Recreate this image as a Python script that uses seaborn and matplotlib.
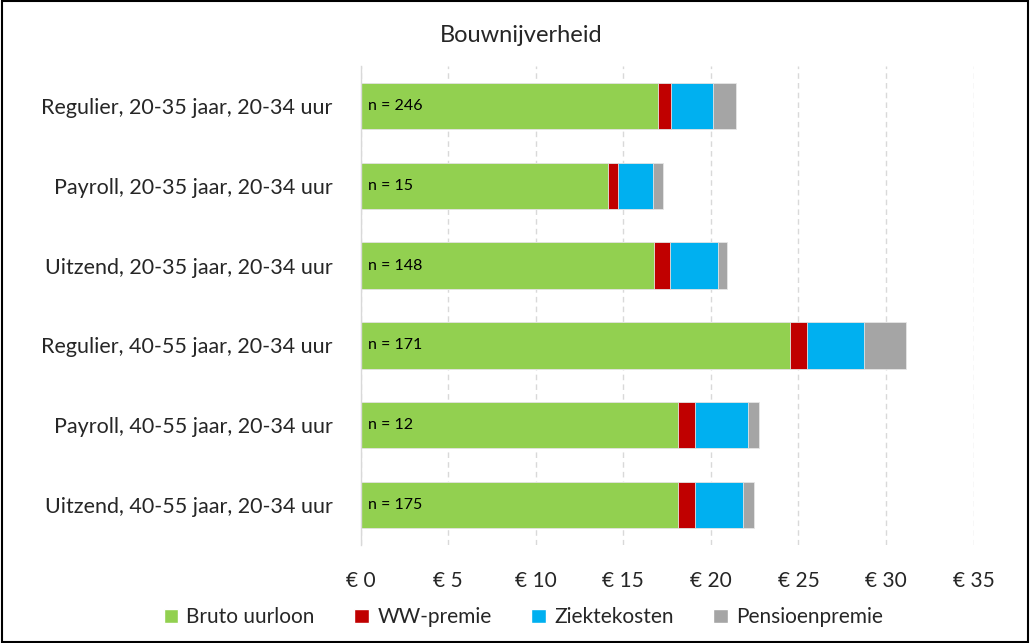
import matplotlib
matplotlib.use("Agg")
import matplotlib.pyplot as plt
import seaborn as sns
import pandas as pd
import numpy as np
from matplotlib.patches import Patch, Rectangle

categories = [
    "Regulier, 20-35 jaar, 20-34 uur",
    "Payroll, 20-35 jaar, 20-34 uur",
    "Uitzend, 20-35 jaar, 20-34 uur",
    "Regulier, 40-55 jaar, 20-34 uur",
    "Payroll, 40-55 jaar, 20-34 uur",
    "Uitzend, 40-55 jaar, 20-34 uur",
]
bruto = [17.0, 14.1, 16.75, 24.5, 18.1, 18.15]
ww = [0.72, 0.6, 0.93, 1.0, 0.97, 0.97]
ziekte = [2.42, 2.0, 2.73, 3.25, 3.03, 2.74]
pensioen = [1.29, 0.54, 0.5, 2.38, 0.64, 0.63]
n_labels = ["n = 246", "n = 15", "n = 148", "n = 171", "n = 12", "n = 175"]
series_names = ["Bruto uurloon", "WW-premie", "Ziektekosten", "Pensioenpremie"]
colors = ["#92D050", "#C00000", "#00B0F0", "#A5A5A5"]
xticks = [0, 5, 10, 15, 20, 25, 30, 35]

sns.set_style("white")
plt.rcParams["font.family"] = ["Lato", "DejaVu Sans"]

df = pd.DataFrame({"cat": categories, "Bruto uurloon": bruto, "WW-premie": ww,
                   "Ziektekosten": ziekte, "Pensioenpremie": pensioen})
cum = df[series_names].cumsum(axis=1)

fig = plt.figure(figsize=(10.3, 6.43), dpi=100)
ax = fig.add_axes([0.35, 0.1524, 0.5953, 0.745])

for name, col in reversed(list(zip(series_names, colors))):
    d = pd.DataFrame({"cat": categories, "val": cum[name]})
    sns.barplot(data=d, y="cat", x="val", orient="h", color=col, width=0.58,
                edgecolor="#E6E6E6", linewidth=0.6, ax=ax, saturation=1)

for i, lab in enumerate(n_labels):
    ax.text(0.4, i, lab, va="center", ha="left", fontsize=11.5, color="#000000")

ax.set_xlim(0, 35)
ax.set_xticks(xticks)
ax.set_xticklabels([f"€ {v}" for v in xticks], fontsize=15)
ax.tick_params(axis="x", pad=19, length=0)
ax.tick_params(axis="y", pad=20, length=0, labelsize=15.5)
ax.set_xlabel("")
ax.set_ylabel("")
ax.xaxis.grid(True, linestyle=(0, (4, 3)), color="#D9D9D9", linewidth=1)
ax.yaxis.grid(False)
ax.set_axisbelow(True)
for s in ax.spines.values():
    s.set_visible(False)
ax.spines["left"].set_visible(True)
ax.spines["left"].set_color("#D9D9D9")
ax.spines["left"].set_linewidth(1)

fig.text(0.506, 0.945, "Bouwnijverheid", ha="center", va="center", fontsize=17)

handles = [Patch(facecolor=c, label=n) for n, c in zip(series_names, colors)]
fig.legend(handles=handles, loc="center", bbox_to_anchor=(0.508, 0.04), ncol=4,
           frameon=False, fontsize=15, handlelength=0.7, handleheight=0.7,
           handletextpad=0.4, columnspacing=1.9)

fig.patches.append(Rectangle((0.002, 0.002), 0.996, 0.996, transform=fig.transFigure,
                             fill=False, edgecolor="black", linewidth=1.5))

fig.savefig("out.png", dpi=100)
